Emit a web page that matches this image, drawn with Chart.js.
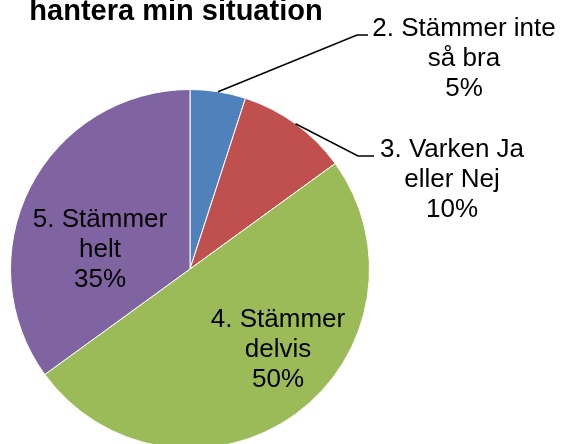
<!DOCTYPE html>
<html>
<head>
<meta charset="utf-8">
<script src="https://cdn.jsdelivr.net/npm/chart.js@4.4.0/dist/chart.umd.min.js"></script>
<style>
	html, body { margin: 0; padding: 0; background: #fff; overflow: hidden; }
	.chart { position: absolute; left: 0; top: 0; width: 565px; height: 460px; }
</style>
</head>
<body>
<div class="chart"><canvas id="pie" width="565" height="460"></canvas></div>
<script>
// data
const titleText = "hantera min situation";
const categories = ["2. Stämmer inte så bra", "3. Varken Ja eller Nej", "4. Stämmer delvis", "5. Stämmer helt"];
const labelLines = [["2. Stämmer inte", "så bra"], ["3. Varken Ja", "eller Nej"], ["4. Stämmer", "delvis"], ["5. Stämmer", "helt"]];
const percentages = [5, 10, 50, 35];

const colors = ["#4F81BD", "#C0504D", "#9BBB59", "#8064A2"];

// where each label block sits (centre x, first baseline) and the leader elbow/end if any
const labelStyle = [
	{ x: 464, y: 36, leader: [[357, 35], [368, 35]] },
	{ x: 452, y: 157, leader: [[358, 156], [374, 156]] },
	{ x: 278, y: 327 },
	{ x: 100, y: 227 }
];

const labelsPlugin = {
	id: "pieLabels",
	afterDraw(chart) {
		const ctx = chart.ctx;
		const meta = chart.getDatasetMeta(0);
		ctx.save();

		ctx.fillStyle = "#000";
		ctx.textAlign = "center";
		ctx.textBaseline = "alphabetic";
		ctx.font = "bold 29px 'Liberation Sans', Arial, sans-serif";
		ctx.fillText(titleText, 176, 20);

		meta.data.forEach((arc, i) => {
			const st = labelStyle[i];
			if (st.leader) {
				const mid = (arc.startAngle + arc.endAngle) / 2;
				const sx = arc.x + Math.cos(mid) * arc.outerRadius;
				const sy = arc.y + Math.sin(mid) * arc.outerRadius;
				ctx.strokeStyle = "#000";
				ctx.lineWidth = 1.5;
				ctx.beginPath();
				ctx.moveTo(sx, sy);
				st.leader.forEach(p => ctx.lineTo(p[0], p[1]));
				ctx.stroke();
			}
			const lines = labelLines[i].concat([percentages[i] + "%"]);
			ctx.font = "26px 'Liberation Sans', Arial, sans-serif";
			ctx.fillStyle = "#000";
			lines.forEach((t, k) => ctx.fillText(t, st.x, st.y + k * 29.8));
		});
		ctx.restore();
	}
};

new Chart(document.getElementById("pie").getContext("2d"), {
	type: "pie",
	data: {
		labels: categories,
		datasets: [{
			data: percentages,
			backgroundColor: colors,
			borderColor: "#ffffff",
			borderWidth: 1
		}]
	},
	options: {
		responsive: false,
		animation: false,
		layout: {
			padding: { left: 10, right: 195, top: 89, bottom: 11 }
		},
		plugins: {
			legend: { display: false },
			tooltip: { enabled: false },
			title: { display: false }
		}
	},
	plugins: [labelsPlugin]
});
</script>
</body>
</html>
